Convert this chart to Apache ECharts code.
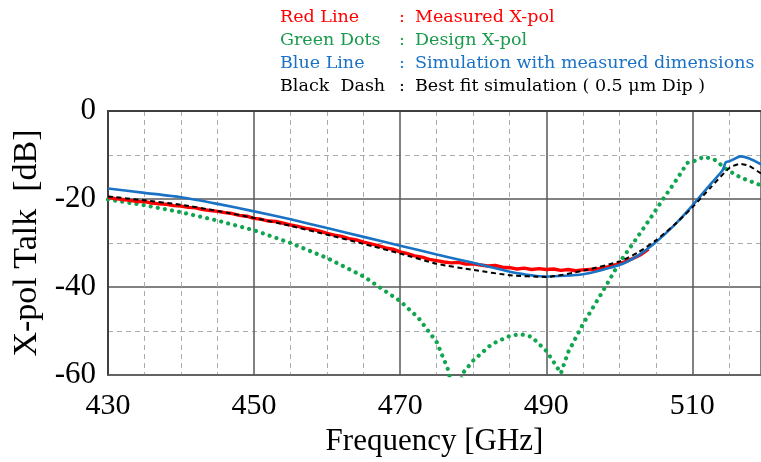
<!DOCTYPE html>
<html><head><meta charset="utf-8">
<script src="https://cdn.jsdelivr.net/npm/echarts@6/dist/echarts.min.js"></script>
<style>html,body{margin:0;padding:0;background:#fff}#c{width:761px;height:462px}</style>
</head><body><div id="c"></div>
<script>
// ---- data ----
const xTickLabels = [430, 450, 470, 490, 510];
const yTickLabels = [0, -20, -40, -60];
const legendNames = ['Red Line', 'Green Dots', 'Blue Line', 'Black  Dash'];
const legendDescs = ['Measured X-pol', 'Design X-pol', 'Simulation with measured dimensions', 'Best fit simulation ( 0.5 μm Dip )'];

const redFreq = [430,431,432,433,434,435,436,437,438,439,440,441,442,443,444,445,446,447,448,449,450,451,452,453,454,455,456,457,458,459,460,461,462,463,464,465,466,467,468,469,470,471,472,473,474,475,476,477,478,479,480,481,482,483,484,485,486,487,488,489,490,491,492,493,494,495,496,497,498,499,500,501,502,503,504];
const redDb = [-19.6,-19.9,-20.1,-20.3,-20.6,-20.6,-20.9,-21.1,-21.2,-21.5,-21.6,-21.9,-22.0,-22.4,-22.6,-22.8,-23.1,-23.3,-23.7,-23.9,-24.4,-24.6,-25.0,-25.1,-25.5,-25.9,-26.2,-26.6,-26.9,-27.3,-27.8,-28.2,-28.5,-29.0,-29.3,-29.8,-30.2,-30.6,-31.1,-31.4,-32.0,-32.4,-32.9,-33.2,-33.7,-34.0,-34.3,-34.5,-34.4,-34.8,-34.7,-35.0,-35.2,-35.1,-35.5,-35.6,-35.9,-35.7,-36.0,-35.8,-36.0,-35.9,-36.2,-36.0,-36.3,-36.1,-36.0,-35.9,-35.6,-35.2,-34.7,-34.1,-33.4,-32.6,-31.4];

const greenFreq = [430,435,440,445,450,455,460,465,470,472.5,475,476.5,477.6,478.6,480,482.5,485,486.5,488,490,491.2,492,493,495,497,498.5,500,502,504,506,508,509.3,510.2,511.6,513,514.8,516.6,519.4];
const greenDb = [-20.1,-21.4,-23.0,-24.9,-27.1,-30.0,-33.4,-37.6,-43.2,-47.0,-52.5,-58.5,-66,-59.5,-56.7,-53.0,-51.1,-50.7,-51.3,-54.5,-57.5,-59.6,-54.8,-48.5,-43.0,-38.8,-34.5,-29.8,-25.0,-20.0,-15.2,-11.8,-11.4,-10.4,-11.0,-13.4,-15.1,-16.9];

const blueFreq = [430,435,440,445,450,455,460,465,470,475,480,485,490,495,500,502.5,505,507.5,510,512.5,514.1,514.6,515.1,516.6,517.8,519.4];
const blueDb = [-17.6,-18.6,-19.6,-21.1,-22.8,-24.6,-26.6,-28.6,-30.6,-32.6,-34.5,-36.5,-37.6,-37.1,-35.0,-32.9,-29.8,-26.0,-21.5,-16.6,-13.6,-11.6,-11.4,-10.3,-10.8,-12.1];

const blackFreq = [430,435,440,445,450,455,460,465,470,475,480,485,490,495,500,502.5,505,507.5,510,512.5,515.1,516.6,517.8,519.4];
const blackDb = [-19.4,-20.3,-21.3,-22.7,-24.3,-26.1,-28.1,-30.2,-32.4,-34.7,-36.1,-37.3,-37.7,-36.3,-34.2,-32.2,-29.4,-25.9,-21.9,-17.4,-12.9,-12.0,-12.5,-14.2];

// ---- chart ----
const zip = (a, b) => a.map((v, i) => [v, b[i]]);
const AX_FONT = '"Liberation Serif", "Times New Roman", serif';
const LG_FONT = '"DejaVu Serif", serif';
const legendColors = ['#ff0000', '#1a9a4c', '#1a72c4', '#000000'];

const graphic = [];
legendNames.forEach((n, i) => {
  const y = 17 + 23 * i;
  graphic.push({type:'text', x:280, y:y, style:{text:n, fill:legendColors[i], font:'17.5px ' + LG_FONT, verticalAlign:'middle'}});
  graphic.push({type:'text', x:399, y:y, style:{text:':', fill:legendColors[i], font:'17.5px ' + LG_FONT, verticalAlign:'middle'}});
  graphic.push({type:'text', x:415, y:y, style:{text:legendDescs[i], fill:legendColors[i], font:'17.5px ' + LG_FONT, verticalAlign:'middle'}});
});

const chart = echarts.init(document.getElementById('c'), null, {renderer:'canvas'});
chart.setOption({
  animation: false,
  backgroundColor: '#ffffff',
  grid: {left:108, right:0, top:111, bottom:84},
  graphic: graphic,
  xAxis: [
    {type:'value', min:430, max:519.4, interval:20, position:'bottom',
     axisLine:{show:true, onZero:false, lineStyle:{color:'#595959', width:1.5}},
     axisTick:{show:false},
     axisLabel:{color:'#000', fontFamily:AX_FONT, fontSize:30, margin:16, showMaxLabel:false,
       formatter: v => xTickLabels.includes(v) ? String(v) : ''},
     splitLine:{show:true, lineStyle:{color:'#595959', width:1.5}},
     name:'Frequency [GHz]', nameLocation:'middle', nameGap:50,
     nameTextStyle:{color:'#000', fontFamily:AX_FONT, fontSize:31}},
    {type:'value', min:430, max:519.4, interval:5, position:'top',
     axisLine:{show:true, onZero:false, lineStyle:{color:'#404040', width:2}},
     axisTick:{show:false}, axisLabel:{show:false},
     splitLine:{show:true, lineStyle:{color:['transparent','#ababab','#ababab','#ababab'], width:1, type:[5,4]}}}
  ],
  yAxis: {type:'value', min:-60, max:0, interval:20,
    axisLine:{show:true, lineStyle:{color:'#404040', width:2}},
    axisTick:{show:false},
    axisLabel:{color:'#000', fontFamily:AX_FONT, fontSize:31, margin:12,
      formatter: v => yTickLabels.includes(v) ? String(v) : ''},
    splitLine:{show:true, lineStyle:{color:'#595959', width:1.5}},
    minorTick:{show:false, splitNumber:2},
    minorSplitLine:{show:true, lineStyle:{color:'#ababab', width:1, type:[5,4]}},
    name:'X-pol Talk  [dB]', nameLocation:'middle', nameGap:64, nameRotate:90,
    nameTextStyle:{color:'#000', fontFamily:AX_FONT, fontSize:34}},
  series: [
    {name:'Design X-pol', type:'line', data:zip(greenFreq, greenDb), symbol:'none', clip:true, z:2,
     lineStyle:{color:'#12a54f', width:4.2, type:[0.01, 7.2], cap:'round'}},
    {name:'Measured X-pol', type:'line', data:zip(redFreq, redDb), symbol:'none', clip:true, z:3,
     lineStyle:{color:'#ff0000', width:3.4}},
    {name:'Simulation', type:'line', data:zip(blueFreq, blueDb), symbol:'none', clip:true, z:4, smooth:0.2,
     lineStyle:{color:'#1a72c4', width:2.6}},
    {name:'Best fit', type:'line', data:zip(blackFreq, blackDb), symbol:'none', clip:true, z:5, smooth:0.2,
     lineStyle:{color:'#000', width:2, type:[5,3.5]}}
  ]
});
</script>
</body></html>
